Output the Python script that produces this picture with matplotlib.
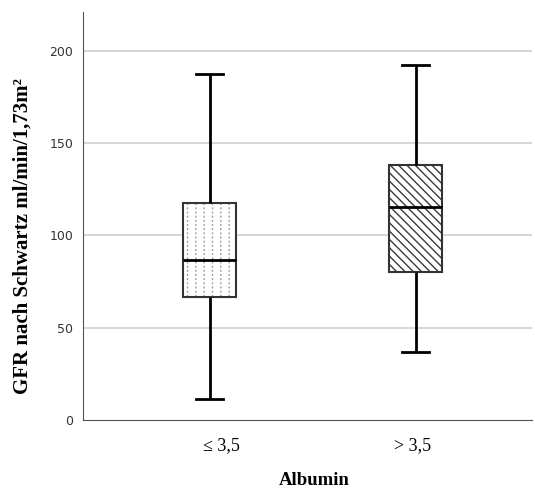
import numpy as np
import matplotlib
matplotlib.use("Agg")
import matplotlib.pyplot as plt
import matplotlib.transforms as mtransforms

# group stats
groups = ["\u2264 3,5", "> 3,5"]
whislo = [11.4, 36.9]
q1 = [66.8, 80.4]
med = [86.7, 115.3]
q3 = [117.4, 138.2]
whishi = [187.2, 192.0]
hatches = ["||", "\\\\\\\\"]
hatch_cols = ["#9a9a9a", "#3a3a3a"]

plt.rcParams['hatch.linewidth'] = 1.0

fig = plt.figure(figsize=(5.35, 4.93), dpi=100)
ax = fig.add_axes([0.155, 0.148, 0.84, 0.828])

pos = [1, 2]
w = 0.257
stats = []
for i in range(2):
    stats.append(dict(whislo=whislo[i], q1=q1[i], med=med[i], q3=q3[i],
                      whishi=whishi[i], fliers=[], label=groups[i]))

# hatched fill under the boxes
for i in range(2):
    ax.bar(pos[i], q3[i] - q1[i], bottom=q1[i], width=w, color="white",
           hatch=hatches[i], edgecolor=hatch_cols[i], lw=0, zorder=2)
# break the vertical lines of the first box into dots
plt.rcParams['hatch.linewidth'] = 1.6
ax.bar(pos[0], q3[0] - q1[0], bottom=q1[0], width=w, fill=False,
       hatch="----", edgecolor="white", lw=0, zorder=2.5)

ax.bxp(stats, positions=pos, widths=w, patch_artist=True, showfliers=False,
       boxprops=dict(facecolor="none", edgecolor="#333333", lw=1.5),
       medianprops=dict(color="black", lw=2),
       whiskerprops=dict(color="black", lw=2, solid_capstyle="butt"),
       capprops=dict(color="black", lw=2),
       capwidths=0.13, zorder=3)

ax.set_xlim(0.383, 2.568)
ax.set_ylim(0, 221)
ax.set_yticks([0, 50, 100, 150, 200])
for y in [50, 100, 150, 200]:
    ax.axhline(y, color="#cfcfcf", lw=1.2, zorder=1)

ax.spines['top'].set_visible(False)
ax.spines['right'].set_visible(False)
ax.spines['left'].set_color("#555555")
ax.spines['bottom'].set_color("#555555")
ax.tick_params(axis='y', length=0, pad=7, labelsize=9, labelcolor="#333333")
ax.tick_params(axis='x', length=0, pad=12)
ax.set_xticks(pos)
ax.set_xticklabels(groups, family="Liberation Serif", fontsize=13)
# SPSS puts the labels a bit off centre
for lab, dx in zip(ax.get_xticklabels(), [0.12, -0.03]):
    lab.set_transform(lab.get_transform() +
                      mtransforms.ScaledTranslation(dx, 0, fig.dpi_scale_trans))

ax.set_ylabel("GFR nach Schwartz ml/min/1,73m\u00b2", family="Liberation Serif",
              fontweight="bold", fontsize=15)
ax.yaxis.set_label_coords(-0.112, 0.451)
ax.set_xlabel("Albumin", family="Liberation Serif", fontweight="bold",
              fontsize=13.5)
ax.xaxis.set_label_coords(0.514, -0.127)

fig.savefig("out.png", dpi=100)
